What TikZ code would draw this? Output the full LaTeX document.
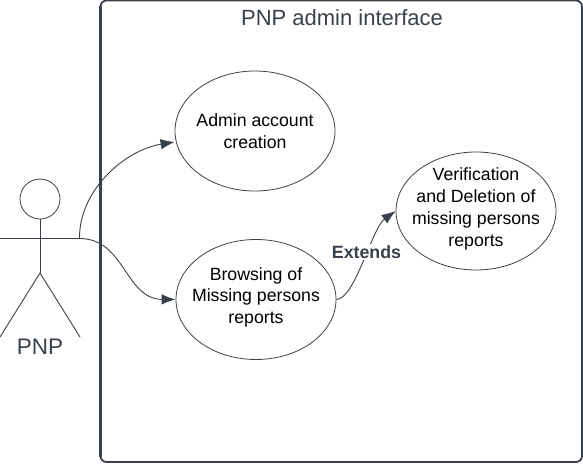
\documentclass[tikz,border=0pt]{standalone}
\usepackage{fontspec}
\setmainfont{Liberation Sans}
\usetikzlibrary{arrows.meta,calc,positioning,shapes.geometric}
\definecolor{slate}{HTML}{3A414A}
\newcommand{\liftlines}{\rule[-8pt]{0pt}{8pt}}

\begin{document}
\begin{tikzpicture}[x=1pt,y=-1pt]

\tikzset{usecase/.style={shape=ellipse,draw=slate,line width=.8pt,inner sep=-20pt,minimum width=160pt,minimum height=120pt,align=center,font=\fontsize{17.7}{21.8}\selectfont},
stick/.style={draw=slate,line width=.9pt},
assoc/.style={draw=slate,line width=.9pt,-{Latex[length=14pt,width=10.5pt]}}}

\useasboundingbox (0,0) rectangle (583,464);

% System boundary
\draw[slate,line width=1.8pt,rounded corners=6pt] (100.5,0.5) rectangle (582,462);
\draw[slate,line width=3pt] (100.5,6) -- (100.5,457);
\node[text=slate,font=\fontsize{22}{26}\selectfont] (title) at (342,18) {PNP admin interface};

% Use cases
\node (admin) [usecase] at (255,131) {Admin account\\creation};
\node (browse) [usecase] at (256,299.5) {Browsing of\\Missing persons\\reports\liftlines};
\node (verify) [usecase,minimum height=118pt] at (476,211) {Verification\\and Deletion of\\missing persons\\reports\liftlines};

% Actor
\node (head) [shape=circle,draw=slate,line width=.8pt,inner sep=0pt,minimum size=40pt] at (40,199) {};
\coordinate (armL) at (0,238.5);
\coordinate (armR) at (79.5,238.5);
\coordinate (hip) at (40,273);
\coordinate (legL) at (0,337);
\coordinate (legR) at (80,337);
\draw[stick] (head) -- (hip);
\draw[stick] (armL) -- (armR);
\draw[stick] (legL) -- (hip) -- (legR);
\node[text=slate,font=\fontsize{22.5}{26}\selectfont] (actor) at (40,347) {PNP};

% Edges
\draw[assoc] (armR) .. controls (79,190) and (125,150) .. (admin.west |- 0,142);
\draw[assoc] (armR) .. controls (125,238.5) and (125,299) .. (browse.west);
\draw[assoc] (browse.east) .. controls (355,299) and (372,228) .. (verify.west);
\node[fill=white,text=slate,inner sep=1pt,font=\fontsize{17.8}{20}\selectfont\bfseries] (extends) at (366.5,252) {Extends};

\end{tikzpicture}
\end{document}
